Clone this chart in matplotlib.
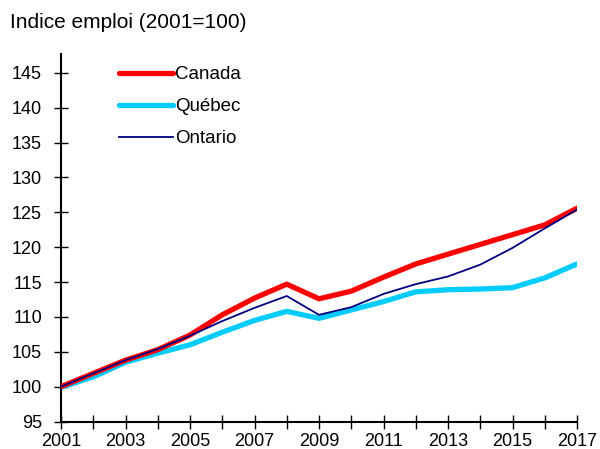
import matplotlib
matplotlib.use("Agg")
import matplotlib.pyplot as plt

years = list(range(2001, 2018))
canada = [100.0, 101.9, 103.8, 105.3, 107.4, 110.3, 112.7, 114.7, 112.6, 113.7,
          115.7, 117.6, 119.0, 120.4, 121.8, 123.2, 125.6]
quebec = [99.9, 101.4, 103.5, 104.8, 106.0, 107.8, 109.5, 110.8, 109.8, 111.0,
          112.2, 113.6, 113.9, 114.0, 114.2, 115.6, 117.6]
ontario = [100.0, 101.9, 103.8, 105.4, 107.3, 109.4, 111.3, 113.0, 110.3, 111.4,
           113.3, 114.7, 115.8, 117.5, 119.9, 122.7, 125.4]
series_names = ["Canada", "Québec", "Ontario"]
title = "Indice emploi (2001=100)"
yticks = list(range(95, 150, 5))
xlabels = [str(y) if (y - 2001) % 2 == 0 else "" for y in years]

plt.rcParams['font.family'] = ['Liberation Sans', 'DejaVu Sans']

fig = plt.figure(figsize=(6.0, 4.49), dpi=100)
ax = fig.add_axes([61/600, 1-421.5/449, (577-61)/600, (421.5-53)/449])

ax.plot(years, canada, color="#FF0000", lw=3.8, label=series_names[0], solid_capstyle='round', zorder=3)
ax.plot(years, quebec, color="#00CCFF", lw=3.8, label=series_names[1], solid_capstyle='round', zorder=2)
ax.plot(years, ontario, color="#000080", lw=1.3, label=series_names[2], zorder=4)

ax.set_xlim(2001, 2017)
ax.set_ylim(95, 145 + 20/7)
ax.set_yticks(yticks)
ax.set_xticks(years)
ax.set_xticklabels(xlabels)

for s in ["top", "right"]:
    ax.spines[s].set_visible(False)
for s in ["left", "bottom"]:
    ax.spines[s].set_linewidth(1.5)
    ax.spines[s].set_color("black")
    ax.spines[s].set_capstyle('butt')

ax.tick_params(axis='both', direction='inout', length=9.5, width=1.0, labelsize=13, colors='black')
ax.tick_params(axis='y', pad=9)
ax.tick_params(axis='x', pad=3.5)

leg = ax.legend(loc='upper left', bbox_to_anchor=(0.098, 0.985), frameon=False, fontsize=13.5,
                handlelength=2.9, handletextpad=0.1, labelspacing=0.8, borderaxespad=0)

fig.text(10/600, 1-22/449, title, fontsize=15, ha='left', va='center')

fig.savefig("out.png", dpi=100)
